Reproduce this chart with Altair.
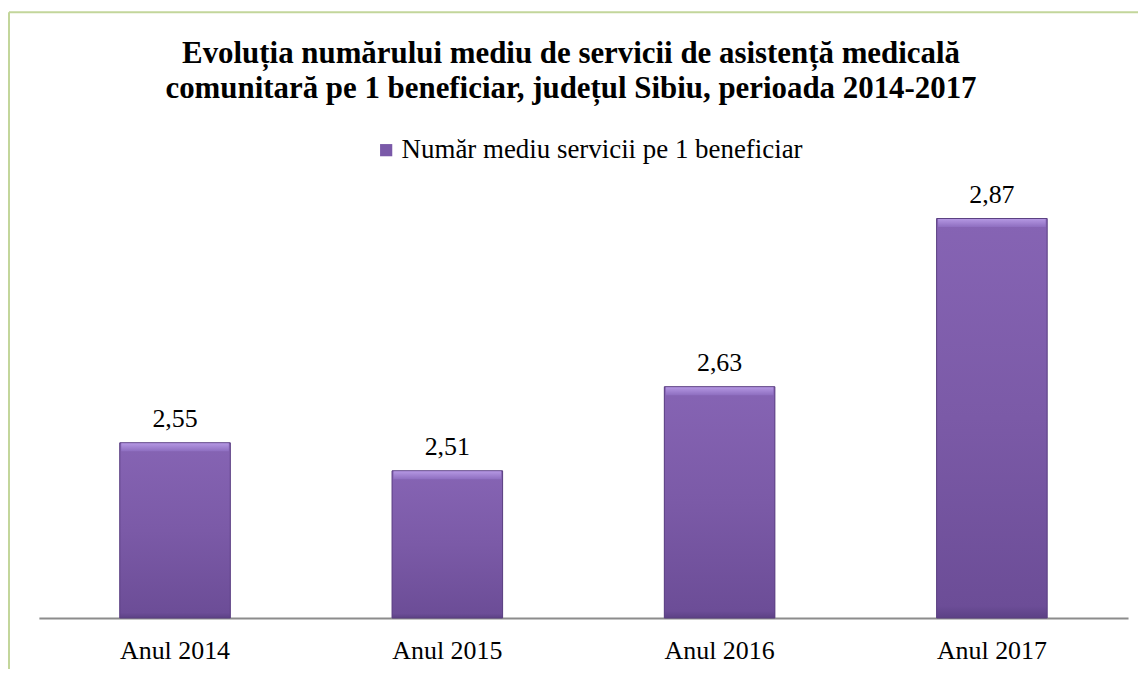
import altair as alt
import pandas as pd

# ---- data ----
years = ["Anul 2014", "Anul 2015", "Anul 2016", "Anul 2017"]
values = [2.55, 2.51, 2.63, 2.87]
value_labels = ["2,55", "2,51", "2,63", "2,87"]
series_name = "Număr mediu servicii pe 1 beneficiar"
title_lines = [
    "Evoluția numărului mediu de servicii de asistență medicală",
    "comunitară pe 1 beneficiar, județul Sibiu, perioada 2014-2017",
]
y_min, y_max = 2.3, 2.9

df = pd.DataFrame({"year": years, "value": values, "label": value_labels,
                   "series": [series_name] * len(years)})

FONT = "Liberation Serif"

x_enc = alt.X(
    "year:N", sort=years,
    scale=alt.Scale(paddingInner=0.594, paddingOuter=0.297),
    axis=alt.Axis(title=None, labelAngle=0, labelFont=FONT, labelFontSize=26,
                  labelColor="black", ticks=False, tickSize=0, labelPadding=20,
                  domainColor="#8c8c8c", domainWidth=2, grid=False),
)
y_enc = alt.Y("value:Q", scale=alt.Scale(domain=[y_min, y_max], zero=False, nice=False),
              axis=None)
y2_enc = alt.datum(y_min)

base = alt.Chart(df)

legend_bar = base.mark_bar(stroke=None).encode(
    x=x_enc, y=y_enc, y2=y2_enc,
    color=alt.Color("series:N", scale=alt.Scale(range=["#7a59a8"]),
                    legend=alt.Legend(orient="none", legendX=335, legendY=-61,
                                      title=None, symbolType="square", symbolSize=150,
                                      symbolStrokeWidth=0, labelFont=FONT,
                                      labelFontSize=27, labelColor="black",
                                      labelOffset=2, labelLimit=0)),
)

body_grad = alt.Gradient(
    gradient="linear", x1=0, x2=0, y1=0, y2=1,
    stops=[alt.GradientStop(color="#8664b4", offset=0),
           alt.GradientStop(color="#7b5aa7", offset=0.5),
           alt.GradientStop(color="#6c4d97", offset=0.97),
           alt.GradientStop(color="#5c4185", offset=1)],
)
body = base.mark_bar(fill=body_grad, stroke="#5a3f82", strokeWidth=1).encode(
    x=x_enc, y=y_enc, y2=y2_enc)

top_grad = alt.Gradient(
    gradient="linear", x1=0, x2=0, y1=0, y2=1,
    stops=[alt.GradientStop(color="#b497e2", offset=0),
           alt.GradientStop(color="#8e6ec0", offset=1)],
)
bevel = base.mark_tick(orient="horizontal", thickness=8, size=108, yOffset=4.5,
                       color=top_grad, opacity=1).encode(x=x_enc, y=y_enc)

labels = base.mark_text(baseline="alphabetic", dy=-16, font=FONT, fontSize=26,
                        color="black").encode(x=x_enc, y=y_enc, text="label:N")

title = alt.Chart(pd.DataFrame({"t": ["\n".join(title_lines)]})).mark_text(
    lineBreak="\n", lineHeight=35, font=FONT, fontSize=31, fontWeight="bold",
    align="center", baseline="alphabetic", color="black",
).encode(x=alt.value(534), y=alt.value(-135), text="t:N")

one = alt.Chart(pd.DataFrame({"k": [0]}))
frame_top = one.mark_rule(color="#c3d69b", strokeWidth=2).encode(
    x=alt.value(-30), x2=alt.value(1110), y=alt.value(-186))
frame_left = one.mark_rule(color="#c3d69b", strokeWidth=2).encode(
    x=alt.value(-30), y=alt.value(-186), y2=alt.value(480))

chart = alt.layer(frame_top, frame_left, legend_bar, body, bevel, labels, title).properties(
    width=1093, height=422,
    autosize=alt.AutoSizeParams(type="none"),
    padding={"left": 31, "top": 189, "right": 10, "bottom": 50},
).configure_view(stroke=None)

chart.save("out.html", embed_options={"renderer": "svg", "actions": False})
